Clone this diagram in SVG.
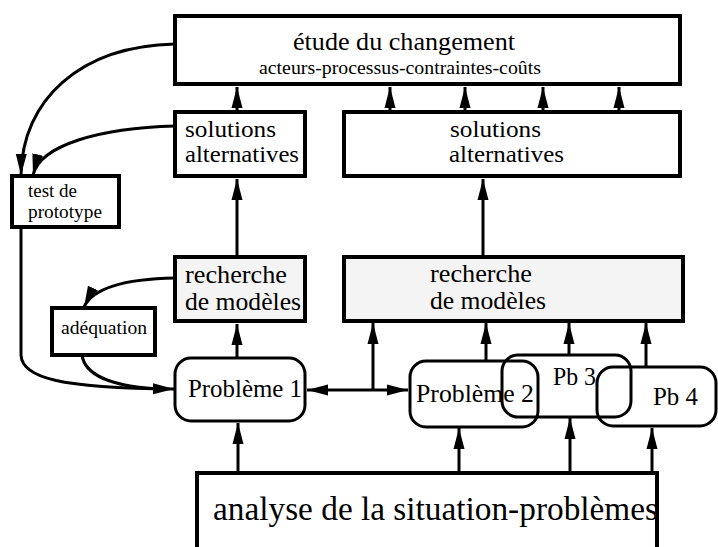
<svg xmlns="http://www.w3.org/2000/svg" width="718" height="547" viewBox="0 0 718 547" font-family="'Liberation Serif', 'Times New Roman', serif">
<defs>
<marker id="ah" markerUnits="userSpaceOnUse" markerWidth="22" markerHeight="12" refX="21" refY="6" orient="auto-start-reverse" viewBox="0 0 22 12">
<path d="M0,0.5 L21,6 L0,11.5 z" fill="#000"/>
</marker>
</defs>
<style>
text{font-family:"Liberation Serif","Times New Roman",serif;fill:#000}
.box{fill:#fff;stroke:#000;stroke-width:4}
.gray{fill:#f4f4f4;stroke:#000;stroke-width:4}
.rnd{fill:none;stroke:#000;stroke-width:3}
.ln{fill:none;stroke:#000;stroke-width:3}
.ar{fill:none;stroke:#000;stroke-width:3;marker-end:url(#ah)}
.big{font-size:26px}
.sol{font-size:24px}
.mid{font-size:19px}
</style>
<rect width="718" height="547" fill="#fff"/>
<g id="connectors">
<path class="ar" d="M237,110 V87"/>
<path class="ar" d="M390,110 V87"/>
<path class="ar" d="M465,110 V87"/>
<path class="ar" d="M543,110 V87"/>
<path class="ar" d="M619,110 V87"/>
<path class="ar" d="M237,255 V179"/>
<path class="ar" d="M483,255 V179"/>
<path class="ar" d="M175,44 C80,46 22,100 21,175"/>
<path class="ar" d="M175,126 C100,128 40,145 33,175"/>
<path class="ar" d="M21,228 L21,355 C22,378 60,388 174,389"/>
<path class="ln" d="M82,355 C85,378 120,387 160,389"/>
<path class="ar" d="M175,278 C120,279 92,290 84,307"/>
<path class="ar" d="M237,358 V324"/>
<path class="ar" d="M330,390 H307"/>
<path class="ln" d="M330,390 H386"/>
<path class="ar" d="M386,390 H408"/>
<path class="ar" d="M373,390 V323"/>
<path class="ar" d="M486,361 V323"/>
<path class="ar" d="M569,355 V323"/>
<path class="ar" d="M646,366 V323"/>
<path class="ar" d="M238,473 V423"/>
<path class="ar" d="M459,473 V428"/>
<path class="ar" d="M570,473 V418"/>
<path class="ar" d="M652,473 V428"/>
</g>
<g id="etude">
<rect class="box" x="175" y="16" width="505" height="68"/>
<text x="293" y="50" class="big" textLength="222" lengthAdjust="spacingAndGlyphs">étude du changement</text>
<text x="259" y="74" style="font-size:19px" textLength="282" lengthAdjust="spacingAndGlyphs">acteurs-processus-contraintes-coûts</text>
</g>
<g id="solutions1">
<rect class="box" x="175" y="112" width="130" height="64"/>
<text x="185" y="137" class="sol" textLength="91" lengthAdjust="spacingAndGlyphs">solutions</text>
<text x="185" y="162" class="sol" textLength="114" lengthAdjust="spacingAndGlyphs">alternatives</text>
</g>
<g id="solutions2">
<rect class="box" x="344" y="112" width="336" height="64"/>
<text x="450" y="137" class="sol" textLength="91" lengthAdjust="spacingAndGlyphs">solutions</text>
<text x="449" y="162" class="sol" textLength="115" lengthAdjust="spacingAndGlyphs">alternatives</text>
</g>
<g id="test">
<rect class="box" x="12" y="176" width="107" height="51"/>
<text x="28" y="197" class="mid" textLength="49" lengthAdjust="spacingAndGlyphs">test de</text>
<text x="28" y="218" class="mid" textLength="74" lengthAdjust="spacingAndGlyphs">prototype</text>
</g>
<g id="recherche1">
<rect class="gray" x="175" y="257" width="130" height="64"/>
<text x="185" y="283" class="big" textLength="102" lengthAdjust="spacingAndGlyphs">recherche</text>
<text x="185" y="310" class="big" textLength="116" lengthAdjust="spacingAndGlyphs">de modèles</text>
</g>
<g id="recherche2">
<rect class="gray" x="344" y="257" width="339" height="64"/>
<text x="430" y="282" class="big" textLength="102" lengthAdjust="spacingAndGlyphs">recherche</text>
<text x="430" y="309" class="big" textLength="116" lengthAdjust="spacingAndGlyphs">de modèles</text>
</g>
<g id="adequation">
<rect class="box" x="52" y="308" width="103" height="47"/>
<text x="61" y="334" class="mid" textLength="86" lengthAdjust="spacingAndGlyphs">adéquation</text>
</g>
<g id="probleme1">
<rect class="rnd" x="175" y="358" width="130" height="63" rx="16"/>
<text x="188" y="397" class="big" textLength="114" lengthAdjust="spacingAndGlyphs">Problème 1</text>
</g>
<g id="probleme2">
<rect class="rnd" x="410" y="361" width="128" height="66" rx="16"/>
<text x="416" y="402" class="big" textLength="118" lengthAdjust="spacingAndGlyphs">Problème 2</text>
</g>
<g id="pb3">
<rect class="rnd" x="502" y="355" width="129" height="62" rx="16"/>
<text x="553" y="385" class="big" textLength="43" lengthAdjust="spacingAndGlyphs">Pb 3</text>
</g>
<g id="pb4">
<rect class="rnd" x="597" y="367" width="119" height="59" rx="16"/>
<text x="653" y="405" class="big" textLength="45" lengthAdjust="spacingAndGlyphs">Pb 4</text>
</g>
<g id="analyse">
<rect class="box" x="197" y="473" width="460" height="90"/>
<text x="213" y="520" style="font-size:34px" textLength="445" lengthAdjust="spacingAndGlyphs">analyse de la situation-problèmes</text>
</g>
</svg>
